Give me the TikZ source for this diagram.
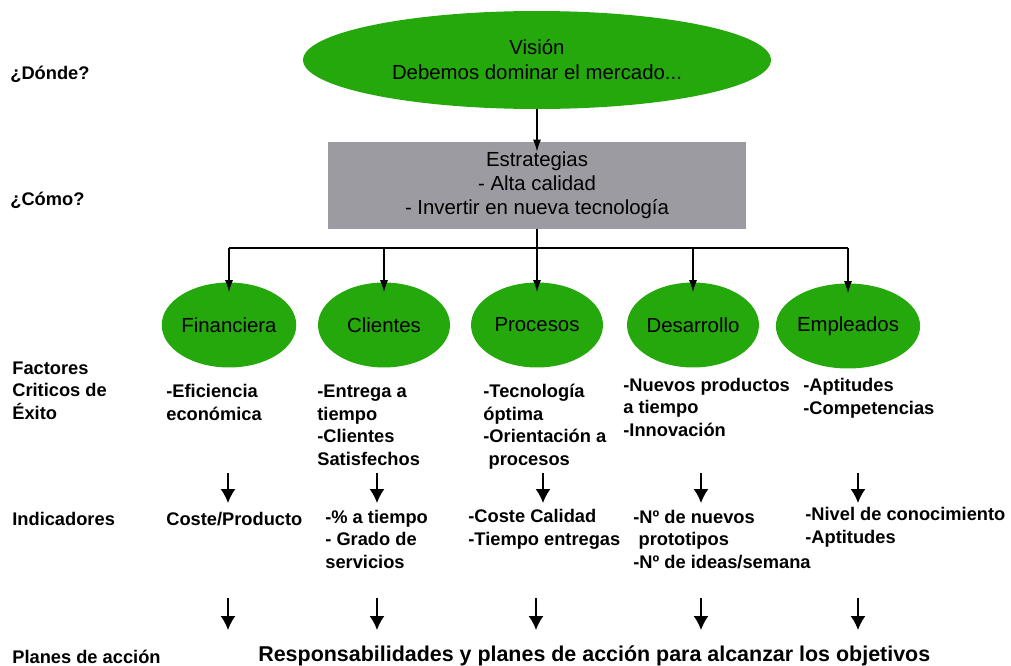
\documentclass[tikz,border=0pt]{standalone}
\usepackage{fontspec}
\setmainfont{Liberation Sans}
\usetikzlibrary{shapes,arrows.meta,positioning}
\definecolor{verde}{RGB}{36,168,12}
\definecolor{gris}{RGB}{156,155,162}
\tikzset{
  elipse/.style={ellipse, fill=verde, inner sep=0pt, align=center,
    font=\fontsize{11.6}{14.2}\selectfont},
  perspectiva/.style={elipse, minimum width=2.64cm, minimum height=1.7cm},
  caja/.style={rectangle, fill=gris, minimum width=8.36cm, minimum height=1.74cm,
    align=center, font=\fontsize{11.6}{13.6}\selectfont},
  % multi-line: base is the last line
  etiqueta/.style={anchor=base west, inner sep=0pt, align=left,
    font=\fontsize{10.4}{12.8}\selectfont\bfseries},
  flecha/.style={-{Latex[length=2.8mm,width=3mm]}, line width=0.9pt},
  conector/.style={-{Latex[length=2.4mm,width=1.6mm]}, line width=0.7pt, shorten >=-0.2cm},
}
\begin{document}
\begin{tikzpicture}[x=0.02cm, y=-0.02cm]
  \useasboundingbox (0,0) rectangle (1011,666);

  % vision y estrategias
  \node[elipse, minimum width=9.36cm, minimum height=1.96cm] (vision) at (537,60)
    {Visión\\Debemos dominar el mercado...};
  \node[caja] (estrategias) at (537,185.5)
    {Estrategias\\- Alta calidad\\- Invertir en nueva tecnología};
  \draw[conector] (vision.south) -- (estrategias.north);

  % perspectivas
  \node[perspectiva] (fin) at (229,325) {Financiera};
  \node[perspectiva] (cli) at (384,325) {Clientes};
  \node[perspectiva] (pro) at (537,325) {Procesos};
  \node[perspectiva] (des) at (693,325) {Desarrollo};
  \node[perspectiva] (emp) at (848,326) {Empleados};

  \coordinate (bus) at (537,248);
  \draw[line width=0.7pt] (estrategias.south) -- (bus);
  \draw[line width=0.7pt] (fin |- bus) -- (emp |- bus);
  \foreach \p in {fin,cli,pro,des,emp}
    \draw[conector] (\p |- bus) -- (\p.north);

  % preguntas de la izquierda
  \node[etiqueta] (donde) at (10,79) {¿Dónde?};
  \node[etiqueta] (como) at (10,205) {¿Cómo?};
  \node[etiqueta] (factores) at (12,419) {Factores\\Criticos de\\Éxito};
  \node[etiqueta] (indicadores) at (12,525) {Indicadores};
  \node[etiqueta] (planes) at (12,663) {Planes de acción};

  % factores criticos
  \node[etiqueta] (fcfin) at (166,420) {-Eficiencia\\económica};
  \node[etiqueta] (fccli) at (317,465) {-Entrega a\\tiempo\\-Clientes\\Satisfechos};
  \node[etiqueta] (fcpro) at (483,465) {-Tecnología\\óptima\\-Orientación a\\\hspace{3pt}procesos};
  \node[etiqueta] (fcdes) at (623,436) {-Nuevos productos\\a tiempo\\-Innovación};
  \node[etiqueta] (fcemp) at (803,414) {-Aptitudes\\-Competencias};

  \foreach \x/\n in {228/a,377/b,543/c,701/d,858/e} {
    \coordinate (fa\n) at (\x,473);
    \coordinate (fb\n) at (\x,503);
    \draw[flecha] (fa\n) -- (fb\n);
  }

  % indicadores
  \node[etiqueta] (infin) at (166,525) {Coste/Producto};
  \node[etiqueta] (incli) at (325,568) {-\% a tiempo\\- Grado de\\servicios};
  \node[etiqueta] (inpro) at (468,545) {-Coste Calidad\\-Tiempo entregas};
  \node[etiqueta] (indes) at (633,568) {-Nº de nuevos\\\hspace{3pt}prototipos\\-Nº de ideas/semana};
  \node[etiqueta] (inemp) at (805,543) {-Nivel de conocimiento\\-Aptitudes};

  \foreach \x/\n in {228/a,377/b,536/c,701/d,858/e} {
    \coordinate (pa\n) at (\x,598);
    \coordinate (pb\n) at (\x,630);
    \draw[flecha] (pa\n) -- (pb\n);
  }

  % planes de accion
  \node[etiqueta, font=\fontsize{12.2}{14}\selectfont\bfseries] (resp) at (258,661)
    {Responsabilidades y planes de acción para alcanzar los objetivos};
\end{tikzpicture}
\end{document}
